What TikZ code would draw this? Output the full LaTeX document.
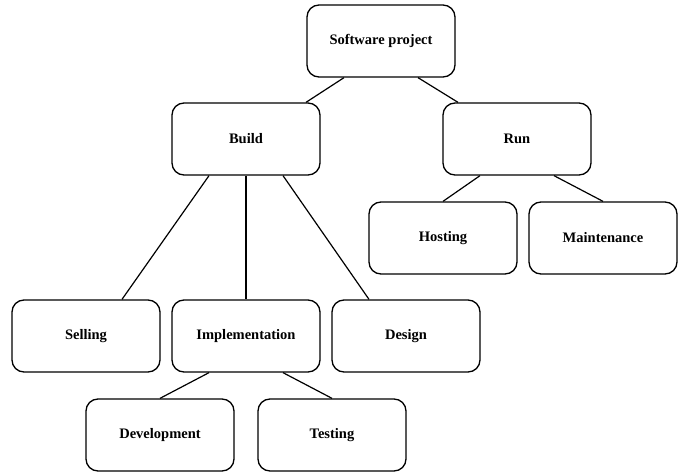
\documentclass[tikz,border=0pt]{standalone}
\usepackage{fontspec}
\setmainfont{Liberation Serif}
\begin{document}
\begin{tikzpicture}[x=1pt,y=-1pt,
  box/.style={draw, rounded corners=12pt, line width=1.3pt, minimum width=148pt, minimum height=72pt, inner sep=0pt, font=\fontsize{14.5}{17}\selectfont\bfseries},
  edge/.style={line width=1.2pt}]
\useasboundingbox (0,0) rectangle (694,476);
\node[box] (sp) at (381,41) {Software project};
\node[box] (build) at (246,139) {Build};
\node[box] (run) at (517,139) {Run};
\node[box] (host) at (443,238) {Hosting};
\node[box] (maint) at (603,238) {Maintenance};
\node[box] (sell) at (86,336) {Selling};
\node[box] (impl) at (246,336) {Implementation};
\node[box] (design) at (406,336) {Design};
\node[box] (dev) at (160,435) {Development};
\node[box] (test) at (332,435) {Testing};
\draw[edge] ([xshift=-37pt]sp.south) -- ([xshift=60pt]build.north);
\draw[edge] ([xshift=37pt]sp.south) -- ([xshift=-59pt]run.north);
\draw[edge] ([xshift=-37pt]build.south) -- ([xshift=36pt]sell.north);
\draw[edge] (build.south) -- (impl.north);
\draw[edge] ([xshift=37pt]build.south) -- ([xshift=-37pt]design.north);
\draw[edge] ([xshift=-37pt]run.south) -- (host.north);
\draw[edge] ([xshift=37pt]run.south) -- (maint.north);
\draw[edge] ([xshift=-37pt]impl.south) -- (dev.north);
\draw[edge] ([xshift=37pt]impl.south) -- (test.north);
\end{tikzpicture}
\end{document}
